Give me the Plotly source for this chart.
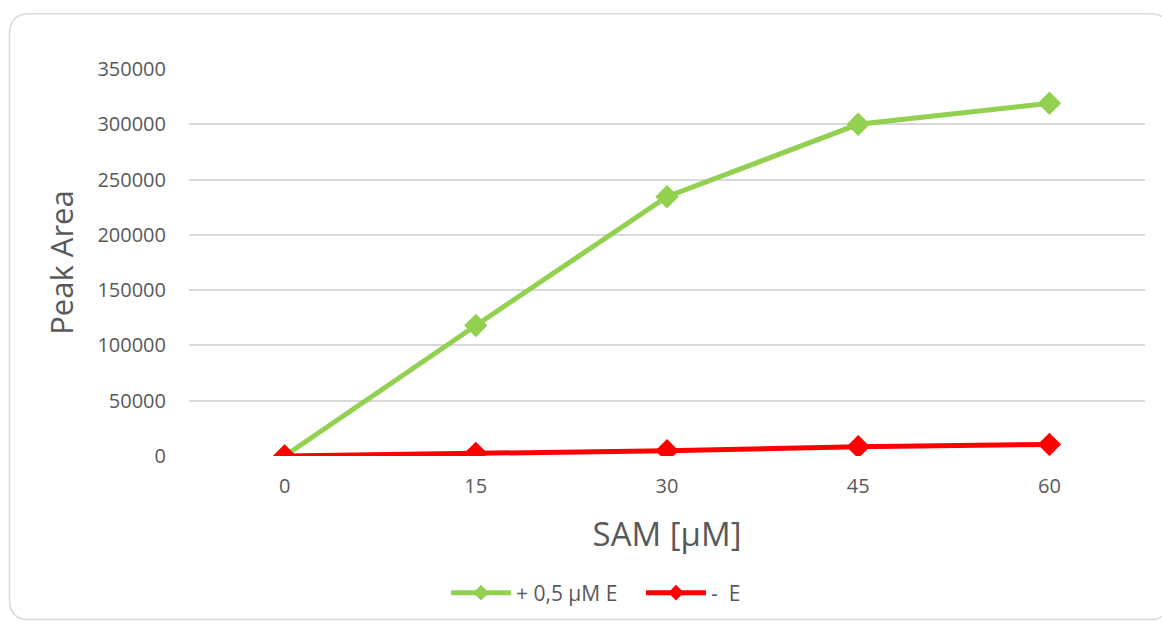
import plotly.graph_objects as go

# SAM concentrations (categories) and measured peak areas
sam_um = ["0", "15", "30", "45", "60"]
peak_with_e = [0, 118000, 234500, 300000, 319000]
peak_without_e = [0, 2400, 4800, 8400, 10500]
y_ticks = [0, 50000, 100000, 150000, 200000, 250000, 300000, 350000]

W, H = 1162, 624
ML, MR, MT, MB = 189, 17, 69, 167
PW, PH = W - ML - MR, H - MT - MB

TEXT = "#595959"
GRID = "#D9D9D9"
FONT = "Open Sans, Segoe UI, sans-serif"


def px(x):
    return (x - ML) / PW


def py(y):
    return (H - MB - y) / PH


fig = go.Figure()
fig.add_trace(go.Scatter(
    x=sam_um, y=peak_with_e, name="+ 0,5 µM E", mode="lines+markers",
    line=dict(color="#92D050", width=5),
    marker=dict(symbol="diamond", size=18, color="#92D050"),
))
fig.add_trace(go.Scatter(
    x=sam_um, y=peak_without_e, name="-\u00a0 E", mode="lines+markers",
    line=dict(color="#FF0000", width=5),
    marker=dict(symbol="diamond", size=18, color="#FF0000"),
))

# rounded outer frame
x0, y0, x1, y1, r = 9.5, 13.5, 1170, 621, 20
path = (
    f"M {px(x0 + r)},{py(y0)} L {px(x1 - r)},{py(y0)} "
    f"Q {px(x1)},{py(y0)} {px(x1)},{py(y0 + r)} "
    f"L {px(x1)},{py(y1 - r)} Q {px(x1)},{py(y1)} {px(x1 - r)},{py(y1)} "
    f"L {px(x0 + r)},{py(y1)} Q {px(x0)},{py(y1)} {px(x0)},{py(y1 - r)} "
    f"L {px(x0)},{py(y0 + r)} Q {px(x0)},{py(y0)} {px(x0 + r)},{py(y0)} Z"
)
fig.add_shape(type="path", path=path, xref="paper", yref="paper",
              line=dict(color=GRID, width=1.5), layer="below")

fig.update_layout(
    width=W, height=H,
    margin=dict(l=ML, r=MR, t=MT, b=MB),
    paper_bgcolor="white", plot_bgcolor="white",
    font=dict(family=FONT, color=TEXT, size=20),
    showlegend=True,
    legend=dict(orientation="h", x=px(446), xanchor="left", y=py(593), yanchor="middle",
                font=dict(size=21, color=TEXT), traceorder="normal",
                itemsizing="constant", itemwidth=60, entrywidth=120),
    xaxis=dict(
        type="category", range=[-0.5, 4.5], showgrid=False, zeroline=False,
        showline=False, ticks="", ticklabelstandoff=16,
        tickfont=dict(size=20, color=TEXT),
        title=dict(text="SAM [µM]", font=dict(size=33, color=TEXT), standoff=24),
    ),
    yaxis=dict(
        range=[0, 350000], tickvals=y_ticks, ticktext=[str(v) for v in y_ticks],
        showgrid=True, gridcolor=GRID, gridwidth=1.5, zeroline=False,
        showline=False, ticks="", ticklabelstandoff=22,
        tickfont=dict(size=20, color=TEXT),
        title=dict(text="Peak Area", font=dict(size=31, color=TEXT), standoff=14),
    ),
)

fig.write_html("out.html")
